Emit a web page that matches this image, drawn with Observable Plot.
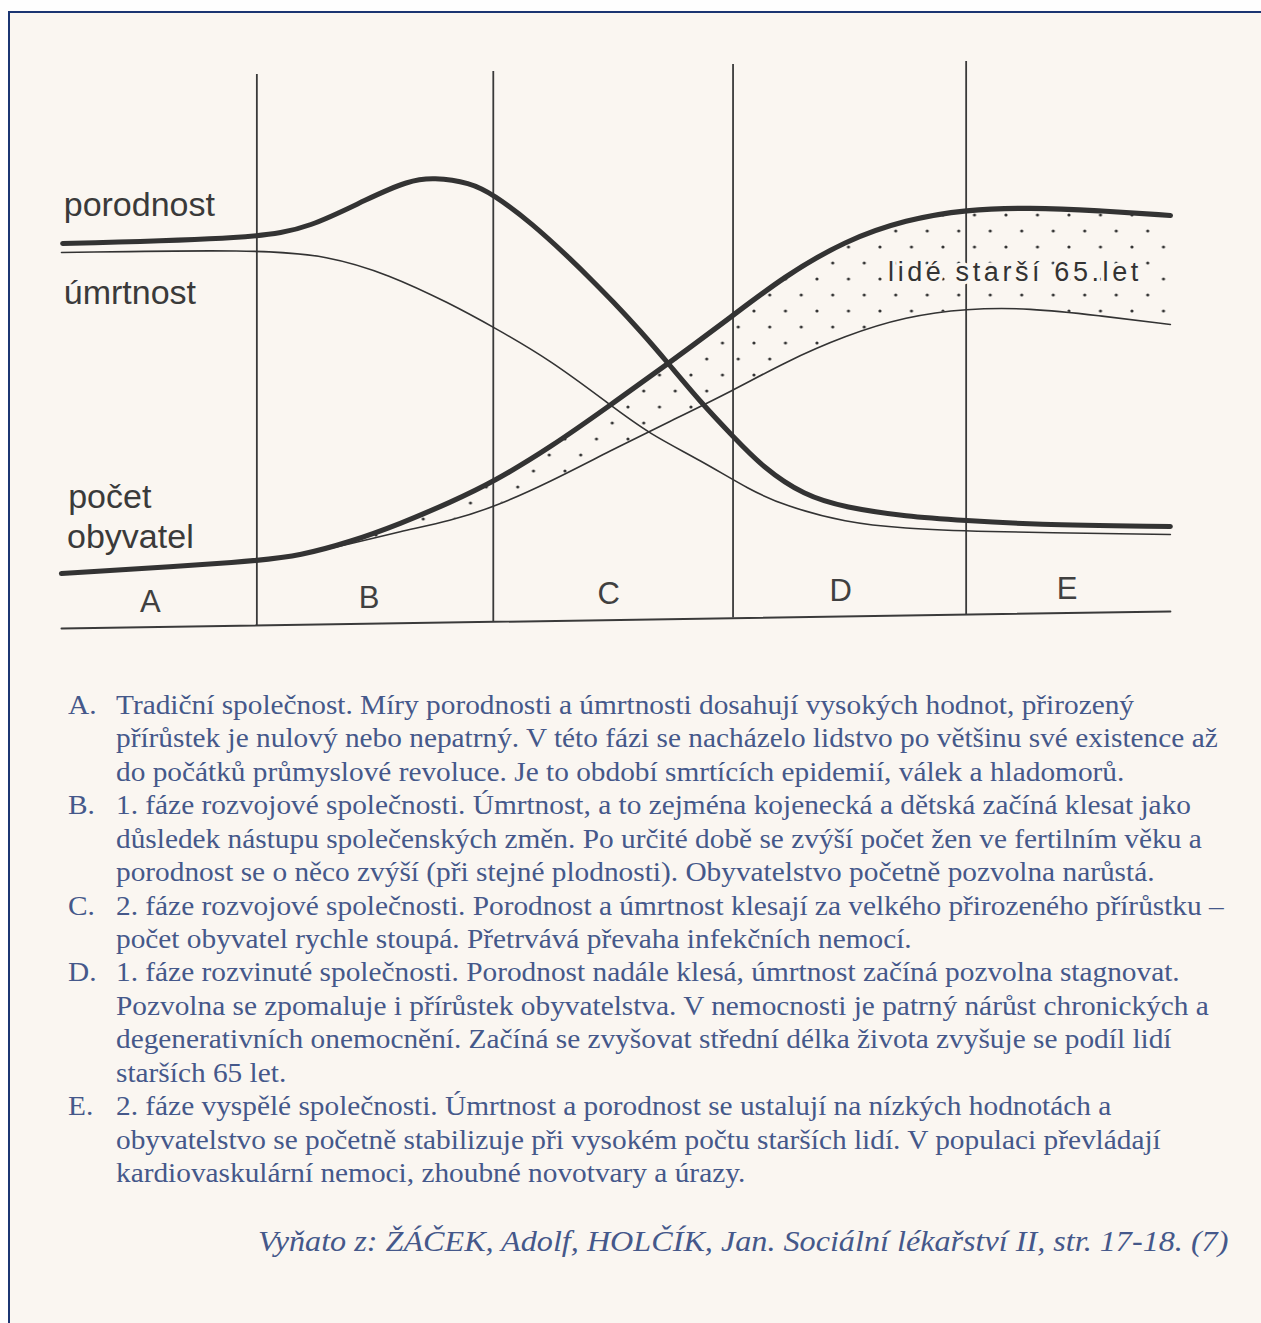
<!DOCTYPE html>
<html><head><meta charset="utf-8">
<script src="https://cdn.jsdelivr.net/npm/d3@7"></script>
<script src="https://cdn.jsdelivr.net/npm/@observablehq/plot@0.6"></script>
<style>
html,body{margin:0;padding:0;background:#fefefe;width:1261px;height:1323px;overflow:hidden;position:relative}
#frame{position:absolute;left:8px;top:11px;width:1300px;height:1400px;border-top:2.5px solid #1b3572;border-left:2.5px solid #1b3572;background:#faf6f1;}
#chart{position:absolute;left:0;top:0}
#notes{position:absolute;left:0;top:0;width:1261px;font-family:"Liberation Serif","Times New Roman",serif;color:#45588a}
.ln{position:absolute;white-space:nowrap;transform-origin:0 0;line-height:normal}
</style></head><body>
<div id="frame"></div>
<div id="chart"></div>
<div id="notes"></div>
<script>
// ---- chart data (x: time in arbitrary units 0-100, y: level in arbitrary units) ----
const periods = ["A", "B", "C", "D", "E"];
const periodX = [8.0, 27.7, 49.3, 70.2, 90.6];
const periodY = [3.4, 4.2, 5.0, 5.6, 6.0];

const boundaryX = [17.6, 38.9, 60.5, 81.5];
const boundaryTop = [110.8, 111.4, 112.8, 113.4];
const boundaryBottom = [0.6, 1.3, 2.1, 2.8];

const axisX = [0, 99.9];
const axisY = [0, 3.4];

// porodnost (birth rate)
const birthX = [0.1, 17.6, 22.4, 27.6, 31.3, 33.5, 36.8, 38.9, 42.3, 46.0, 47.9, 49.6, 52.2, 54.6, 57.6, 60.5, 63.2, 66.9, 70.6, 76.1, 81.5, 87.2, 99.9];
const birthY = [77.0, 78.0, 80.2, 86.0, 89.6, 90.2, 89.2, 86.8, 81.2, 73.6, 69.4, 65.6, 59.4, 53.2, 45.2, 38.4, 32.2, 26.6, 24.2, 22.4, 21.6, 20.8, 20.4];

// úmrtnost (death rate)
const deathX = [0, 17.6, 24.0, 29.5, 35.0, 38.9, 44.1, 49.5, 52.9, 57.6, 62.1, 65.1, 70.6, 76.1, 81.5, 99.9];
const deathY = [75.2, 75.8, 74.6, 70.8, 65.0, 60.3, 53.6, 44.6, 39.0, 33.6, 27.6, 24.6, 21.2, 20.0, 19.4, 18.8];

// počet obyvatel (population) – total and the part younger than 65
const popX = [0, 17.6, 21.5, 26.0, 30.5, 35.1, 38.9, 44.1, 49.4, 54.6, 60.5, 65.1, 70.6, 76.1, 81.5, 87.2, 93.4, 99.9];
const popTotal = [11.0, 13.4, 14.6, 17.3, 20.9, 25.3, 29.3, 36.3, 44.6, 52.9, 62.6, 70.4, 77.6, 81.8, 83.8, 84.2, 83.6, 82.6];
const popUnder65 = [null, null, 14.6, 16.9, 19.4, 21.6, 24.2, 29.4, 35.5, 41.2, 47.6, 53.2, 58.6, 62.4, 64.0, 64.1, 62.6, 60.8];

const seriesLabels = ["porodnost", "úmrtnost", "počet", "obyvatel"];
const seriesLabelX = [0.2, 0.2, 0.6, 0.5];
const seriesLabelY = [82.6, 65.0, 24.2, 16.2];

const bandLabel = "lidé starší 65.let";
const bandLabelX = 85.9;
const bandLabelY = 69.6;

// ---- notes ----
const noteKeys = ["A.", "B.", "C.", "D.", "E."];
const noteLines = [
  ["Tradiční společnost. Míry porodnosti a úmrtnosti dosahují vysokých hodnot, přirozený",
   "přírůstek je nulový nebo nepatrný. V této fázi se nacházelo lidstvo po většinu své existence až",
   "do počátků průmyslové revoluce. Je to období smrtících epidemií, válek a hladomorů."],
  ["1. fáze rozvojové společnosti. Úmrtnost, a to zejména kojenecká a dětská začíná klesat jako",
   "důsledek nástupu společenských změn. Po určité době se zvýší počet žen ve fertilním věku a",
   "porodnost se o něco zvýší (při stejné plodnosti). Obyvatelstvo početně pozvolna narůstá."],
  ["2. fáze rozvojové společnosti. Porodnost a úmrtnost klesají za velkého přirozeného přírůstku –",
   "počet obyvatel rychle stoupá. Přetrvává převaha infekčních nemocí."],
  ["1. fáze rozvinuté společnosti. Porodnost nadále klesá, úmrtnost začíná pozvolna stagnovat.",
   "Pozvolna se zpomaluje i přírůstek obyvatelstva. V nemocnosti je patrný nárůst chronických a",
   "degenerativních onemocnění. Začíná se zvyšovat střední délka života zvyšuje se podíl lidí",
   "starších 65 let."],
  ["2. fáze vyspělé společnosti. Úmrtnost a porodnost se ustalují na nízkých hodnotách a",
   "obyvatelstvo se početně stabilizuje při vysokém počtu starších lidí. V populaci převládají",
   "kardiovaskulární nemoci, zhoubné novotvary a úrazy."]
];
const citation = "Vyňato z: ŽÁČEK, Adolf, HOLČÍK, Jan. Sociální lékařství II, str. 17-18. (7)";

// ---- build tables ----
const birth = birthX.map((x, i) => ({x, y: birthY[i]}));
const death = deathX.map((x, i) => ({x, y: deathY[i]}));
const pop = popX.map((x, i) => ({x, total: popTotal[i], under: popUnder65[i]}));
const bounds = boundaryX.map((x, i) => ({x, y1: boundaryBottom[i], y2: boundaryTop[i]}));
const axis = axisX.map((x, i) => ({x, y: axisY[i]}));
const letters = periods.map((t, i) => ({t, x: periodX[i], y: periodY[i]}));
const slabels = seriesLabels.map((t, i) => ({t, x: seriesLabelX[i], y: seriesLabelY[i]}));

const ink = "#333333";
const curve = "basis";
const sans = "Liberation Sans, Arial, sans-serif";

const chart = Plot.plot({
  width: 1261, height: 650,
  marginLeft: 61, marginRight: 90, marginTop: 28, marginBottom: 22,
  x: {domain: [0, 100], axis: null},
  y: {domain: [0, 120], axis: null},
  style: {background: "transparent", overflow: "visible"},
  marks: [
    Plot.areaY(pop, {x: "x", y1: "under", y2: "total", fill: "url(#stipple)", curve}),
    Plot.ruleX(bounds, {x: "x", y1: "y1", y2: "y2", stroke: "#3a3a3a", strokeWidth: 1.8}),
    Plot.line(axis, {x: "x", y: "y", stroke: "#3a3a3a", strokeWidth: 2}),
    Plot.line(death, {x: "x", y: "y", stroke: ink, strokeWidth: 1.6, curve}),
    Plot.line(pop, {x: "x", y: "under", stroke: ink, strokeWidth: 1.6, curve}),
    Plot.line(birth, {x: "x", y: "y", stroke: ink, strokeWidth: 5, curve}),
    Plot.line(pop, {x: "x", y: "total", stroke: ink, strokeWidth: 5.2, curve}),
    Plot.text(letters, {x: "x", y: "y", text: "t", textAnchor: "middle", lineAnchor: "bottom",
      fontSize: 31, fontFamily: sans, fill: "#404040"}),
    Plot.text(slabels, {x: "x", y: "y", text: "t", textAnchor: "start", lineAnchor: "bottom",
      fontSize: 34, fontFamily: sans, fill: "#3a3a3a"}),
    Plot.text([bandLabel], {x: () => bandLabelX, y: () => bandLabelY, text: d => d, textAnchor: "middle", lineAnchor: "bottom",
      fontSize: 27, fontFamily: sans, fill: "#333",
      stroke: "#faf6f1", strokeWidth: 7})
  ]
});

// stipple pattern for the "older than 65" band
const NS = "http://www.w3.org/2000/svg";
const defs = document.createElementNS(NS, "defs");
const pat = document.createElementNS(NS, "pattern");
pat.setAttribute("id", "stipple");
pat.setAttribute("patternUnits", "userSpaceOnUse");
pat.setAttribute("x", "0"); pat.setAttribute("y", "0");
pat.setAttribute("width", "31.5"); pat.setAttribute("height", "32");
for (const [cx, cy] of [[13.75, 7], [29.5, 23]]) {
  const c = document.createElementNS(NS, "circle");
  c.setAttribute("cx", cx); c.setAttribute("cy", cy); c.setAttribute("r", "1.6");
  c.setAttribute("fill", "#333");
  pat.appendChild(c);
}
defs.appendChild(pat);
chart.insertBefore(defs, chart.firstChild);
chart.querySelectorAll("text").forEach(t => {
  if (t.textContent === bandLabel) t.style.letterSpacing = "3.6px";
});
document.getElementById("chart").appendChild(chart);

// ---- notes text ----
const notes = document.getElementById("notes");
const cv = document.createElement("canvas").getContext("2d");
function widthAt(text, size, style) {
  cv.font = `${style} ${size}px "Liberation Serif"`;
  return cv.measureText(text).width;
}
const F = 28;                        // font size by glyph height
const sx = 1018 / widthAt(noteLines[0][0], F, ""); // horizontal fit
const ascent = 0.891, lineStep = 33.43;
function addLine(txt, left, base, size, scale, italic) {
  const d = document.createElement("div");
  d.className = "ln"; d.textContent = txt;
  d.style.left = left + "px";
  d.style.top = (base - ascent * size) + "px";
  d.style.fontSize = size + "px";
  if (italic) d.style.fontStyle = "italic";
  d.style.transform = `scaleX(${scale})`;
  notes.appendChild(d);
}
let row = 0;
noteKeys.forEach((k, i) => {
  noteLines[i].forEach((txt, j) => {
    const base = 714 + row * lineStep;
    if (j === 0) addLine(k, 68, base, F, sx, false);
    addLine(txt, 116, base, F, sx, false);
    row++;
  });
});
const FC = 28.5;
const sxc = 971 / widthAt(citation, FC, "italic");
addLine(citation, 258, 1251, FC, sxc, true);
</script>
</body></html>
